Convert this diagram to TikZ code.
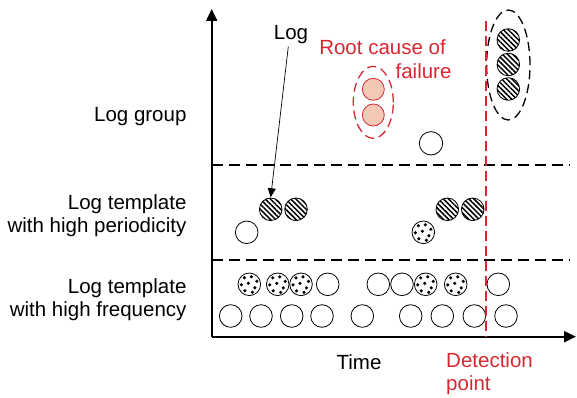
\documentclass[tikz,border=0pt]{standalone}
\usepackage{fontspec}
\setmainfont{Liberation Sans}
\usetikzlibrary{arrows.meta,patterns.meta}
\definecolor{rcred}{HTML}{D7282F}
\definecolor{rcfill}{HTML}{F4C8B5}
\begin{document}
\begin{tikzpicture}[x=1pt,y=1pt,
  every node/.style={font=\fontsize{20.5}{23.4}\selectfont},
  ball/.style={circle,draw,line width=0.8pt,minimum size=22.6pt,inner sep=0pt},
  openball/.style={ball},
  hatchball/.style={ball,pattern={Lines[angle=-45,distance=3.6pt,line width=1.5pt]}},
  dotball/.style={ball,path picture={
     \foreach \dx/\dy in {-5/6.5,2/7.5,7.5/3,-8/-0.5,-1/1,5.5/-3.5,-4.5/-6.5,3/-8}
       \fill ([shift={(\dx pt,\dy pt)}]path picture bounding box.center) circle (1.75pt);}},
  redball/.style={ball,draw=rcred,fill=rcfill,minimum size=22pt},
  sep/.style={line width=1.6pt,dash pattern=on 11pt off 6pt},
  grp/.style={draw,line width=1.3pt,dash pattern=on 9pt off 5pt},
  axis/.style={line width=2pt,-{Triangle[length=12pt,width=11pt]}},
  lbl/.style={anchor=east,align=right}
]
\useasboundingbox (0,0) rectangle (577,397);
% axes
\coordinate (O) at (211.7,60.3);
\coordinate (ytip) at (211.7,388);
\coordinate (xtip) at (576,60.3);
\draw[axis] (O) -- (ytip);
\draw[axis] (O) -- (xtip);
% separators
\coordinate (s1a) at (211.7,232);
\coordinate (s1b) at (570,232);
\coordinate (s2a) at (211.7,137);
\coordinate (s2b) at (570,137);
\draw[sep] (s1a) -- (s1b);
\draw[sep] (s2a) -- (s2b);
% bottom row
\foreach \x [count=\i] in {230.7,261,291.7,322,362.3,410.7,442.3,474.3,506}
  \node[openball] (b\i) at (\x,81) {};
% second row
\node[dotball] (f1) at (249.3,112.7) {};
\node[dotball] (f2) at (277.7,112.7) {};
\node[dotball] (f3) at (301,112.7) {};
\node[openball] (f4) at (327.7,112.7) {};
\node[openball] (f5) at (378.3,112.7) {};
\node[openball] (f6) at (402,112.7) {};
\node[dotball] (f7) at (425.7,112.7) {};
\node[dotball] (f8) at (455.7,112.7) {};
\node[openball] (f9) at (498.3,112.7) {};
% periodicity
\node[hatchball] (p1) at (270.7,187.7) {};
\node[hatchball] (p2) at (296,187.7) {};
\node[hatchball] (p3) at (447.3,187.7) {};
\node[hatchball] (p4) at (472.7,187.7) {};
\node[openball] (p5) at (246.7,164.7) {};
\node[dotball] (p6) at (423.3,164.7) {};
% log group row
\node[openball,minimum size=23.4pt] (g1) at (431,253.7) {};
\node[redball] (r1) at (373.3,307.7) {};
\node[redball] (r2) at (373.3,282) {};
\draw[rcred,line width=1.3pt,dash pattern=on 9pt off 5pt] (373.3,294.7) ellipse (20 and 36);
\node[hatchball] (h1) at (508.3,357) {};
\node[hatchball] (h2) at (508.3,332.5) {};
\node[hatchball] (h3) at (508.3,308) {};
\draw[grp] (508.3,332) ellipse (21.7 and 55);
% detection line
\coordinate (d1) at (486,376);
\coordinate (d2) at (486,60.3);
\draw[rcred,line width=2pt,dash pattern=on 10pt off 5pt] (d1) -- (d2);
% labels
\node[anchor=base east] (lg) at (190,275.3) {Log group};
\node[lbl] (lp) at (190,181.2) {Log template\\with high periodicity};
\node[lbl] (lf) at (190,97.5) {Log template\\with high frequency};
\node[anchor=base] (log) at (291,357.7) {Log};
\draw[line width=0.7pt,-{Triangle[length=9pt,width=8pt]}] (288.3,350.3) -- (p1.north);
\node[anchor=base east,text=rcred] (rc1) at (449.3,342.7) {Root cause of};
\node[anchor=base east,text=rcred] (rc2) at (455,318.7) {failure};
\node[anchor=base] (time) at (359,27.7) {Time};
\node[anchor=base west,text=rcred] (dp1) at (442.7,29.7) {Detection};
\node[anchor=base west,text=rcred] (dp2) at (442.7,7) {point};
\end{tikzpicture}
\end{document}
